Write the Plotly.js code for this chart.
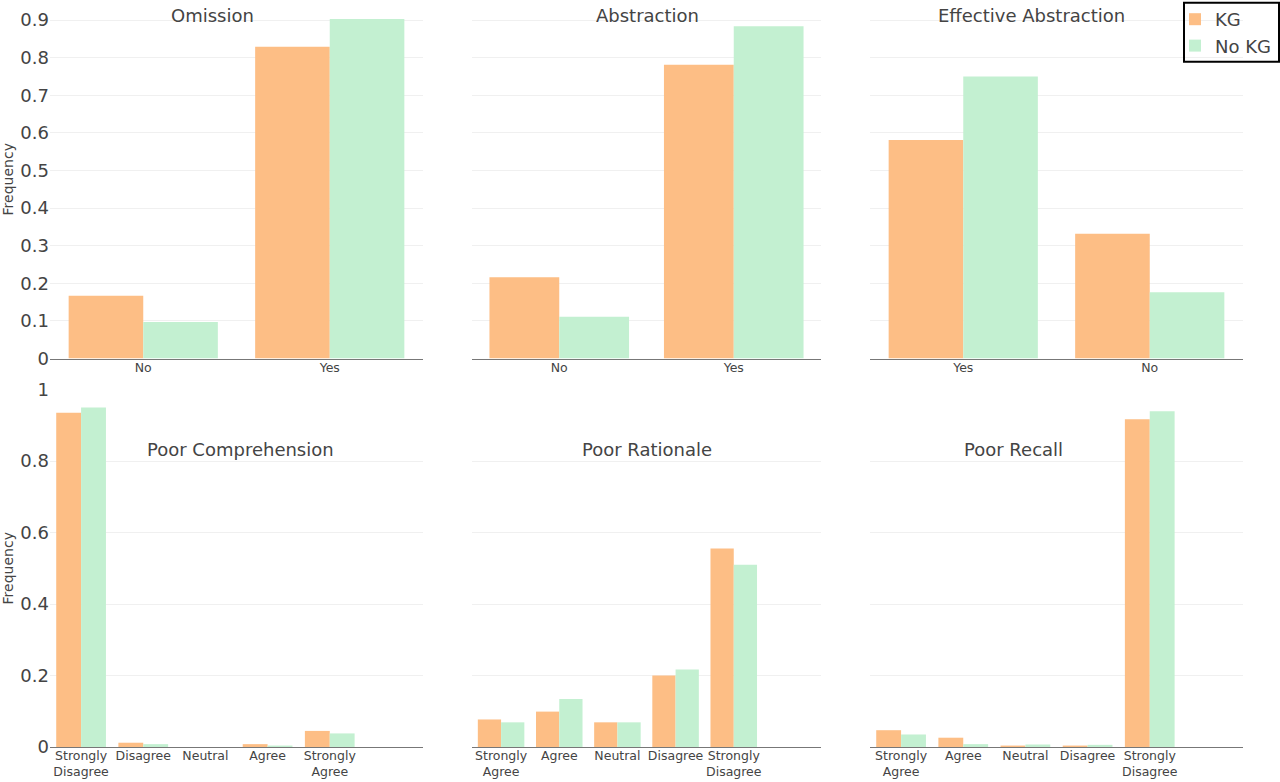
<!DOCTYPE html>
<html>
<head>
<meta charset="utf-8">
<script src="https://cdn.plot.ly/plotly-3.0.1.min.js"></script>
<style>html,body{margin:0;padding:0;background:#fff;}#chart{width:1280px;height:782px;}</style>
</head>
<body>
<div id="chart"></div>
<script>
// ---- data ----
var seriesNames = ["KG", "No KG"];
var omissionCats = ["No", "Yes"];
var omissionKG = [0.167, 0.829];
var omissionNoKG = [0.097, 0.903];

var abstractionCats = ["No", "Yes"];
var abstractionKG = [0.216, 0.781];
var abstractionNoKG = [0.111, 0.884];

var effAbsCats = ["Yes", "No"];
var effAbsKG = [0.581, 0.332];
var effAbsNoKG = [0.750, 0.176];

var compCats = ["Strongly<br>Disagree", "Disagree", "Neutral", "Agree", "Strongly<br>Agree"];
var compKG = [0.935, 0.012, 0.0, 0.008, 0.045];
var compNoKG = [0.950, 0.008, 0.0, 0.004, 0.038];

var rationaleCats = ["Strongly<br>Agree", "Agree", "Neutral", "Disagree", "Strongly<br>Disagree"];
var rationaleKG = [0.077, 0.099, 0.069, 0.200, 0.555];
var rationaleNoKG = [0.069, 0.134, 0.069, 0.217, 0.510];

var recallCats = ["Strongly<br>Agree", "Agree", "Neutral", "Disagree", "Strongly<br>Disagree"];
var recallKG = [0.047, 0.026, 0.004, 0.004, 0.917];
var recallNoKG = [0.035, 0.008, 0.007, 0.006, 0.939];

var panelTitles = ["Omission", "Abstraction", "Effective Abstraction", "Poor Comprehension", "Poor Rationale", "Poor Recall"];

(function () {
// ---- styling ----
var COL_KG = "#FDBE85";
var COL_NOKG = "#C3F0D1";
var FONT = "DejaVu Sans, Verdana, sans-serif";
var W = 1280, H = 782;

var panels = [
  [omissionCats, omissionKG, omissionNoKG],
  [abstractionCats, abstractionKG, abstractionNoKG],
  [effAbsCats, effAbsKG, effAbsNoKG],
  [compCats, compKG, compNoKG],
  [rationaleCats, rationaleKG, rationaleNoKG],
  [recallCats, recallKG, recallNoKG]
];

var traces = [];
panels.forEach(function (p, i) {
  var ax = i === 0 ? "" : String(i + 1);
  traces.push({type: "bar", name: seriesNames[0], x: p[0], y: p[1], marker: {color: COL_KG},
    xaxis: "x" + ax, yaxis: "y" + ax, showlegend: i === 0, legendgroup: "kg"});
  traces.push({type: "bar", name: seriesNames[1], x: p[0], y: p[2], marker: {color: COL_NOKG},
    xaxis: "x" + ax, yaxis: "y" + ax, showlegend: i === 0, legendgroup: "nokg"});
});

var xDomains = [[50 / W, 423 / W], [472 / W, 821 / W], [870 / W, 1243 / W]];
var yTopDom = [(H - 358.5) / H, 1];
var yBotDom = [(H - 747) / H, (H - 389.5) / H];

var layout = {
  width: W, height: H,
  margin: {l: 0, r: 0, t: 0, b: 0, autoexpand: false},
  paper_bgcolor: "#fff", plot_bgcolor: "#fff",
  font: {family: FONT, color: "#444"},
  barmode: "group", bargap: 0.2, bargroupgap: 0,
  legend: {x: 1175 / W, xanchor: "left", y: 1 - 1 / H, yanchor: "top", borderwidth: 0,
    bgcolor: "rgba(255,255,255,0)", font: {size: 18, family: FONT, color: "#444"}, tracegroupgap: 0,
    itemwidth: 30},
  shapes: [{type: "rect", xref: "paper", yref: "paper", x0: 1184 / W, x1: 1279 / W,
    y0: 1 - 61.7 / H, y1: 1 - 2.7 / H, line: {color: "#000", width: 2}, fillcolor: "rgba(0,0,0,0)", layer: "above"}],
  annotations: []
};

for (var i = 0; i < 6; i++) {
  var ax = i === 0 ? "" : String(i + 1);
  var col = i % 3, isTop = i < 3;
  var xa = {domain: xDomains[col], anchor: "y" + ax, type: "category", showline: true, linecolor: "#777", linewidth: 1,
    ticks: "", showgrid: false, tickfont: {size: 12.5, family: FONT, color: "#444"}, fixedrange: true,
    ticklabelstandoff: -3};
  if (!isTop) { xa.range = [-0.5, 5.5]; }
  var ya = {domain: isTop ? yTopDom : yBotDom, anchor: "x" + ax, range: isTop ? [0, 0.9535] : [0, 1],
    gridcolor: "#f0f0f0", gridwidth: 1, zeroline: false, showline: false, ticks: "",
    showticklabels: col === 0, tickfont: {size: 18, family: FONT, color: "#444"}, fixedrange: true,
    dtick: isTop ? 0.1 : 0.2};
  if (col === 0) { ya.title = {text: "Frequency", font: {size: 14, family: FONT, color: "#444"}, standoff: 4}; }
  layout["xaxis" + ax] = xa;
  layout["yaxis" + ax] = ya;
}

var titlePos = [[212, 15], [647, 15], [1031, 15], [240, 449], [647, 449], [1013, 449]];
panelTitles.forEach(function (t, k) {
  layout.annotations.push({text: t, xref: "paper", yref: "paper", x: titlePos[k][0] / W, y: 1 - titlePos[k][1] / H,
    xanchor: "center", yanchor: "middle", showarrow: false, font: {size: 18, family: FONT, color: "#444"}});
});

Plotly.newPlot("chart", traces, layout, {displayModeBar: false, staticPlot: true});
})();
</script>
</body>
</html>
